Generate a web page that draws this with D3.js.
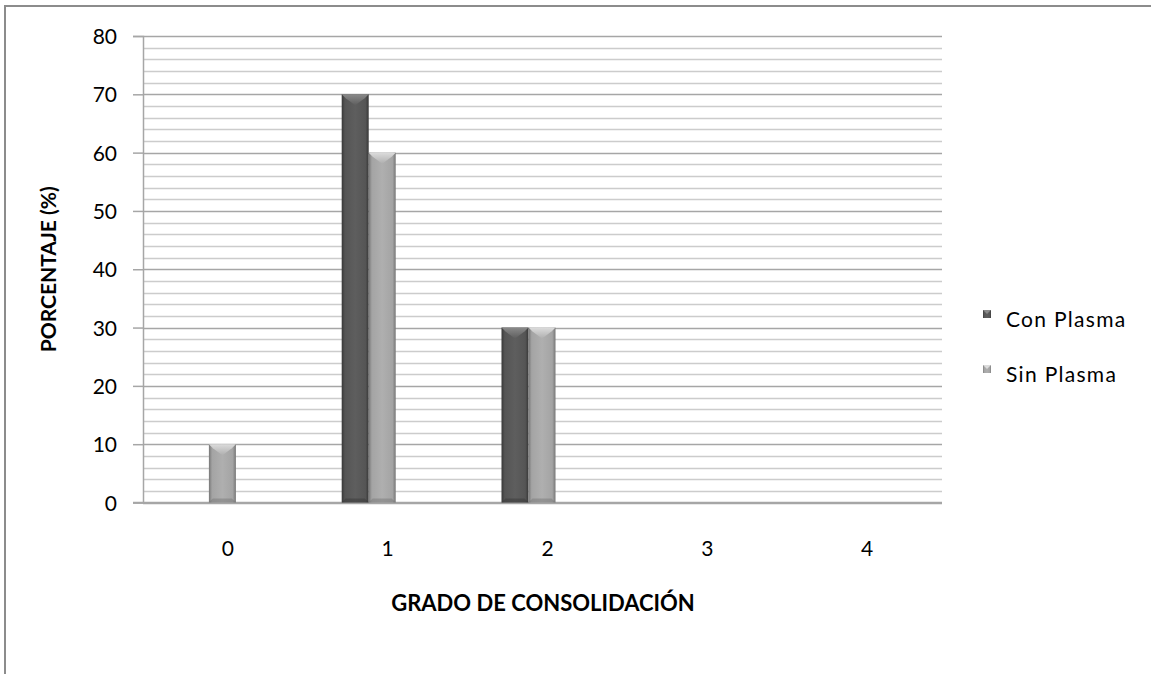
<!DOCTYPE html>
<html>
<head>
<meta charset="utf-8">
<script src="https://cdnjs.cloudflare.com/ajax/libs/d3/7.8.5/d3.min.js"></script>
<style>
  html, body { margin: 0; padding: 0; background: #fff; }
  svg { display: block; }
  text { font-family: Lato, "Open Sans", sans-serif; fill: #000; }
</style>
</head>
<body>
<div id="chart"></div>
<script>
// Consolidation grade categories and the percentage per group
const categories = ["0", "1", "2", "3", "4"];
const conPlasma = [0, 70, 30, 0, 0];
const sinPlasma = [10, 60, 30, 0, 0];
const seriesNames = ["Con Plasma", "Sin Plasma"];
const yTicks = [0, 10, 20, 30, 40, 50, 60, 70, 80];

const W = 1151, H = 674;
const plot = { left: 143, right: 942, top: 36, bottom: 502.5 };
const FONT = 21;

const svg = d3.select("#chart").append("svg")
  .attr("width", W).attr("height", H);

// outer frame
svg.append("path")
  .attr("d", `M5,${H + 5} L5,6 L${W + 5},6`)
  .attr("fill", "none").attr("stroke", "#8c8c8c").attr("stroke-width", 2);

const x = d3.scaleBand().domain(categories).range([plot.left, plot.right]);
const y = d3.scaleLinear().domain([0, 80]).range([plot.bottom, plot.top]);

// gradients giving the bars their bevelled look
const defs = svg.append("defs");
const shades = [
  { id: "g0", edge: "#383838", mid: "#555555", hi: "#5e5e5e", top: "#8a8a8a" },
  { id: "g1", edge: "#777777", mid: "#a4a4a4", hi: "#afafaf", top: "#dcdcdc" }
];
shades.forEach(s => {
  const g = defs.append("linearGradient").attr("id", s.id)
    .attr("x1", "0%").attr("x2", "100%").attr("y1", "0%").attr("y2", "0%");
  [[0, s.edge], [0.12, s.mid], [0.5, s.hi], [0.88, s.mid], [1, s.edge]]
    .forEach(([o, c]) => g.append("stop").attr("offset", o).attr("stop-color", c));
  const gv = defs.append("linearGradient").attr("id", s.id + "t")
    .attr("x1", "0%").attr("x2", "0%").attr("y1", "0%").attr("y2", "100%");
  gv.append("stop").attr("offset", 0).attr("stop-color", s.top);
  gv.append("stop").attr("offset", 1).attr("stop-color", s.hi);
});

// gridlines: minor every 2, major every 10
const grid = svg.append("g");
d3.range(0, 81, 2).forEach(v => {
  const major = v % 10 === 0;
  grid.append("line")
    .attr("x1", plot.left).attr("x2", plot.right)
    .attr("y1", Math.round(y(v)) + 0.5).attr("y2", Math.round(y(v)) + 0.5)
    .attr("stroke", major ? "#a6a6a6" : "#cccccc")
    .attr("stroke-width", major ? 1.5 : 1.3);
});

// y axis
const yAxis = d3.axisLeft(y).tickValues(yTicks).tickSize(10).tickPadding(16);
const ya = svg.append("g").attr("transform", `translate(${plot.left},0)`).call(yAxis);
ya.select(".domain").attr("stroke", "#a6a6a6").attr("stroke-width", 1.5);
ya.selectAll(".tick line").attr("stroke", "#a6a6a6").attr("stroke-width", 1.5);
ya.selectAll(".tick text").attr("font-size", FONT).attr("font-family", "Lato, sans-serif")
  .attr("fill", "#000").attr("dy", "0.36em");

// x axis baseline
svg.append("line")
  .attr("x1", plot.left - 10).attr("x2", plot.right)
  .attr("y1", plot.bottom).attr("y2", plot.bottom)
  .attr("stroke", "#a6a6a6").attr("stroke-width", 1.5);

// x labels
svg.append("g").selectAll("text").data(categories).join("text")
  .attr("x", d => x(d) + x.bandwidth() / 2 + 5)
  .attr("y", 556)
  .attr("text-anchor", "middle").attr("font-size", FONT)
  .text(d => d);

// bars
const barW = 27;
const offset = -14;
const series = [conPlasma, sinPlasma];
series.forEach((vals, si) => {
  const g = svg.append("g");
  vals.forEach((v, i) => {
    if (v <= 0) return;
    const cx = x(categories[i]) + x.bandwidth() / 2 + offset;
    const x0 = cx - barW + si * barW;
    const y0 = y(v), y1 = y(0);
    g.append("rect").attr("x", x0).attr("y", y0)
      .attr("width", barW).attr("height", y1 - y0)
      .attr("fill", `url(#${shades[si].id})`);
    // top bevel
    g.append("path")
      .attr("d", `M${x0},${y0} L${x0 + barW},${y0} L${x0 + barW - 4},${y0 + 4} L${x0 + barW / 2},${y0 + 11} L${x0 + 4},${y0 + 4} Z`)
      .attr("fill", `url(#${shades[si].id}t)`);
    // bottom bevel shading
    g.append("path")
      .attr("d", `M${x0},${y1} L${x0 + barW},${y1} L${x0 + barW - 4},${y1 - 4} L${x0 + 4},${y1 - 4} Z`)
      .attr("fill", shades[si].edge).attr("opacity", 0.5);
  });
});

// axis titles
svg.append("text")
  .attr("transform", `translate(56,${(plot.top + plot.bottom) / 2}) rotate(-90)`)
  .attr("text-anchor", "middle").attr("font-size", FONT).attr("font-weight", "bold")
  .text("PORCENTAJE (%)");
svg.append("text")
  .attr("x", 543).attr("y", 611)
  .attr("text-anchor", "middle").attr("font-size", 22).attr("font-weight", "bold")
  .text("GRADO DE CONSOLIDACIÓN");

// legend
const legend = svg.append("g");
seriesNames.forEach((name, i) => {
  const ly = 314 + i * 55;
  legend.append("rect").attr("x", 983).attr("y", ly - 4).attr("width", 8).attr("height", 8)
    .attr("fill", `url(#${shades[i].id})`);
  legend.append("path")
    .attr("d", `M983,${ly - 4} L991,${ly - 4} L987,${ly}Z`)
    .attr("fill", shades[i].top);
  legend.append("text").attr("x", 1006).attr("y", ly + 13)
    .attr("font-size", FONT).attr("letter-spacing", 1.3).text(name);
});
</script>
</body>
</html>
